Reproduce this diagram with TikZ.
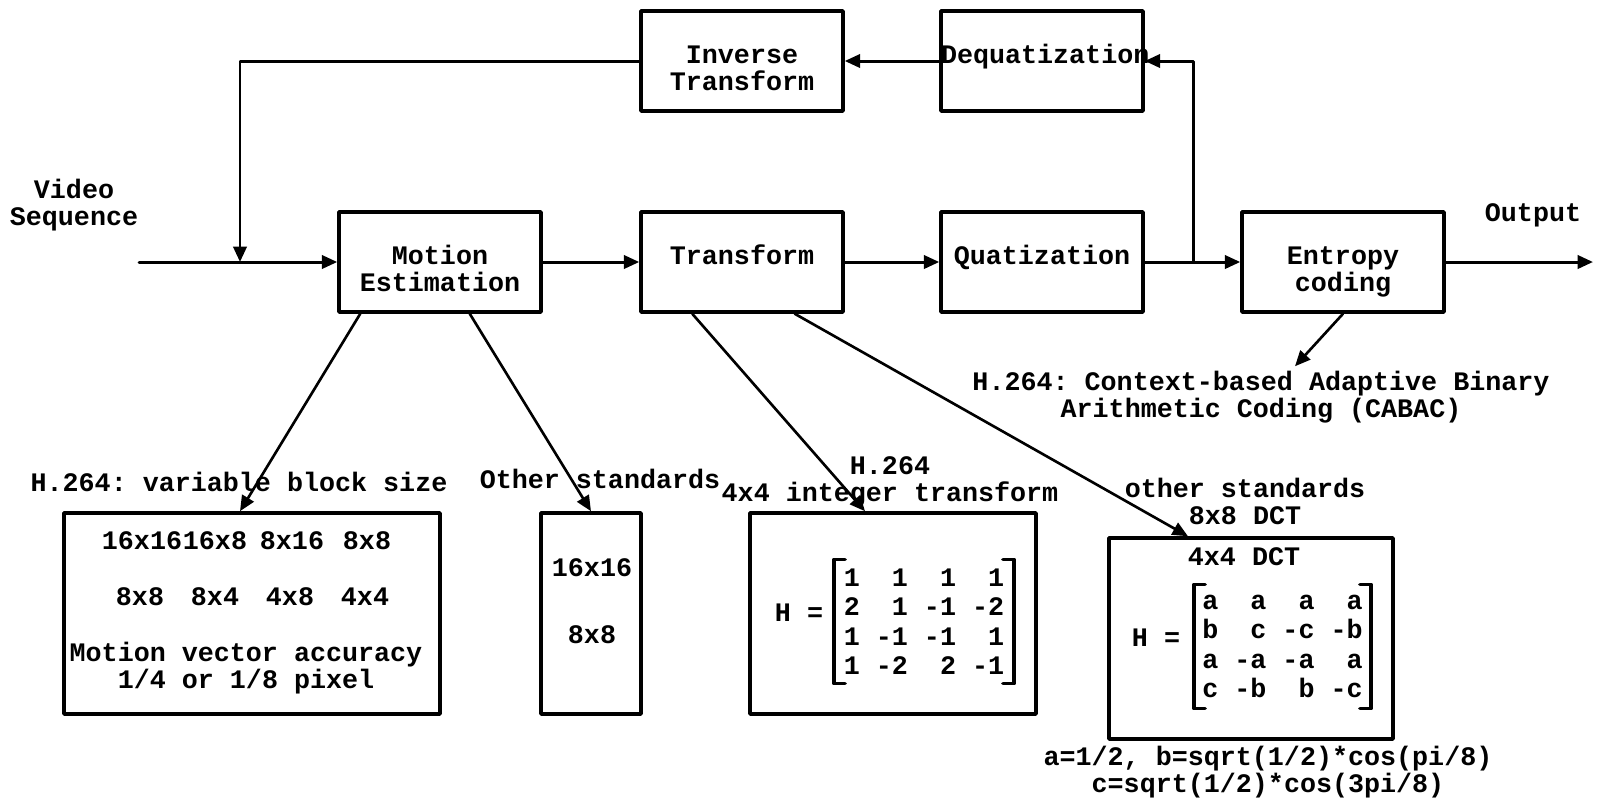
\documentclass[tikz,border=0pt]{standalone}
\usepackage{fontspec}
\setmainfont{Liberation Mono}
\usetikzlibrary{arrows.meta}

\tikzset{
  blok/.style={draw, line width=1pt, inner sep=0pt, text width=2.02cm, minimum height=1cm, align=center,
    text height=0.3cm, text depth=0.26cm},
  kader/.style={draw, line width=1pt, inner sep=0pt},
  txt/.style={inner sep=0pt, align=center},
  mat/.style={inner ysep=0pt, align=left, minimum height=1.23cm, font=\fontsize{7.6}{8.4}\selectfont\bfseries\frenchspacing},
  pijl/.style={->, line width=0.85pt},
  schuin/.style={->, line width=0.75pt},
  haak/.style={line width=1pt},
}

\begin{document}
\begin{tikzpicture}[line cap=round,line join=round,>={Triangle[length=4.4pt,width=3.8pt]},x=0.1mm,y=-0.1mm,
  font=\fontsize{7.6}{7.7}\selectfont\bfseries\frenchspacing]
\useasboundingbox (0,0) rectangle (1600,801);

		%bovenste rij
		\node[blok] (inv) at (742,61) {Inverse\\Transform};
		\node[blok] (deq) at (1042,61) {Dequatization};

		%hoofdketen
		\node[blok] (me) at (440,262) {Motion\\Estimation};
		\node[blok] (tr) at (742,262) {Transform};
		\node[blok] (qu) at (1042,262) {Quatization};
		\node[blok] (ent) at (1343,262) {Entropy\\coding};

		\node[txt] (vid) at (74,205) {Video\\Sequence};
		\node[txt] (outlbl) at (1533,215) {Output};

		\coordinate (in) at (139,262);
		\coordinate (terug) at (240,262);
		\coordinate (tak) at (1193,262);
		\coordinate (uit) at (1593,262);

		\draw[pijl] (in) -- (me);
		\draw[pijl] (me) -- (tr);
		\draw[pijl] (tr) -- (qu);
		\draw[pijl] (qu) -- (ent);
		\draw[pijl] (ent) -- (uit);

		%terugkoppeling
		\draw[pijl] (tak) |- (deq.east);
		\draw[pijl] (deq) -- (inv);
		\draw[pijl] (inv.west) -| (terug);

		% ONDERSTE KADERS

		%variabele blokgrootte
		\node[kader, minimum width=3.76cm, minimum height=2.01cm] (blk) at (252,613.5) {};
		\node[txt] (lblk) at (239,482) {H.264: variable block size};
		\foreach \x/\t [count=\i] in {142/16x16, 215/16x8, 292/8x16, 367/8x8}
		{\node[txt] (ra\i) at (\x,541) {\t};}
		\foreach \x/\t [count=\i] in {140/8x8, 215/8x4, 290/4x8, 365/4x4}
		{\node[txt] (rb\i) at (\x,597) {\t};}
		\node[txt] (acc) at (246,668) {Motion vector accuracy\\1/4 or 1/8 pixel};

		%andere standaarden
		\node[kader, minimum width=1cm, minimum height=2.01cm] (oth) at (591,613.5) {};
		\node[txt] (loth) at (600,479) {Other standards};
		\node[txt] (oa) at (592,568) {16x16};
		\node[txt] (ob) at (592,635) {8x8};

		%integer transform
		\node[kader, minimum width=2.86cm, minimum height=2.01cm] (itr) at (893,613.5) {};
		\node[txt] (litr) at (890,482) {H.264\\4x4 integer transform};
		\node[txt] (hi) at (799,613) {H =};
		\node[mat, inner xsep=0.09cm] (hint) at (924,621.5)
		{1~~1~~1~~1\\2~~1~-1~-2\\1~-1~-1~~1\\1~-2~~2~-1};
		\draw[haak] ([shift={(11,0)}]hint.north west) -- (hint.north west) -- (hint.south west) -- ++(11,0);
		\draw[haak] ([shift={(-11,0)}]hint.north east) -- (hint.north east) -- (hint.south east) -- ++(-11,0);

		%DCT
		\node[kader, minimum width=2.84cm, minimum height=2.01cm] (dct) at (1251,638.5) {};
		\node[txt] (ldct) at (1245,501) {other standards\\8x8 DCT};
		\node[txt] (dtit) at (1244,557) {4x4 DCT};
		\node[txt] (hd) at (1156,638) {H =};
		\node[mat, inner xsep=0.075cm] (hdct) at (1282.5,646.5)
		{a~~a~~a~~a\\b~~c~-c~-b\\a~-a~-a~~a\\c~-b~~b~-c};
		\draw[haak] ([shift={(11,0)}]hdct.north west) -- (hdct.north west) -- (hdct.south west) -- ++(11,0);
		\draw[haak] ([shift={(-11,0)}]hdct.north east) -- (hdct.north east) -- (hdct.south east) -- ++(-11,0);
		\node[txt] (coef) at (1268,772) {a=1/2, b=sqrt(1/2)*cos(pi/8)\\c=sqrt(1/2)*cos(3pi/8)};

		%CABAC
		\node[txt] (cabac) at (1261,397) {H.264: Context-based Adaptive Binary\\Arithmetic Coding (CABAC)};

		% schuine pijlen
		\draw[schuin] ([shift={(23,0)}]me.south west) -- ([shift={(-12,0)}]blk.north);
		\draw[schuin] ([shift={(-73,0)}]me.south east) -- (oth.north);
		\draw[schuin] ([shift={(53,0)}]tr.south west) -- ([shift={(-28,0)}]itr.north);
		\draw[schuin] ([shift={(-50,0)}]tr.south east) -- ([shift={(-63,0)}]dct.north);
		\draw[schuin] (ent.south) -- ([shift={(34,-4)}]cabac.north);

	\end{tikzpicture}
\end{document}
